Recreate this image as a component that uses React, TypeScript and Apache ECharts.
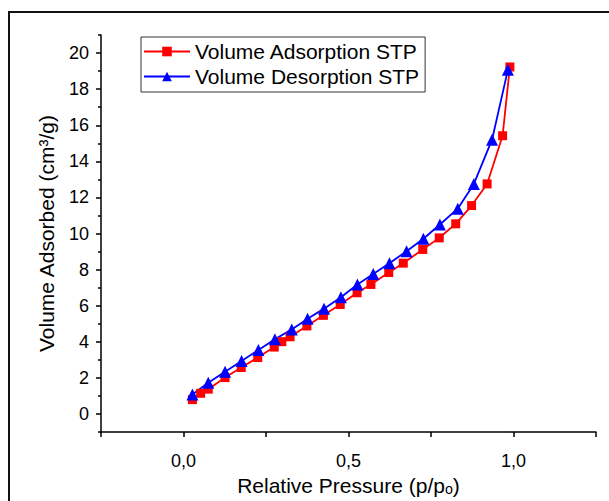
import React, { useEffect, useRef } from "react";
import * as echarts from "echarts";

const adsX = [0.027, 0.052, 0.075, 0.126, 0.175, 0.225, 0.275, 0.298, 0.323, 0.374, 0.424, 0.475, 0.526, 0.568, 0.622, 0.666, 0.725, 0.775, 0.825, 0.873, 0.92, 0.967, 0.989];
const adsY = [0.8, 1.15, 1.38, 2.02, 2.58, 3.13, 3.71, 4.01, 4.28, 4.88, 5.47, 6.07, 6.72, 7.18, 7.84, 8.36, 9.12, 9.76, 10.54, 11.55, 12.75, 15.42, 19.23];

const desX = [0.027, 0.075, 0.126, 0.176, 0.227, 0.277, 0.328, 0.376, 0.426, 0.477, 0.527, 0.575, 0.624, 0.676, 0.727, 0.777, 0.831, 0.88, 0.935, 0.983];
const desY = [1.08, 1.74, 2.35, 2.94, 3.55, 4.14, 4.69, 5.28, 5.84, 6.47, 7.18, 7.76, 8.36, 9.02, 9.71, 10.5, 11.38, 12.75, 15.2, 19.07];

const xLabelValues = [0, 0.5, 1.0];
const yMajorValues = [0, 2, 4, 6, 8, 10, 12, 14, 16, 18, 20];
const yMinorValues = [-1, 1, 3, 5, 7, 9, 11, 13, 15, 17, 19, 21];

const seriesNames = ["Volume Adsorption STP", "Volume Desorption STP"];
const FONT = "'Liberation Sans', Arial, sans-serif";

export default function App() {
  const ref = useRef<HTMLDivElement>(null);
  useEffect(() => {
    if (!ref.current) return;
    const chart = echarts.init(ref.current, null, { renderer: "svg" });
    const ads = adsX.map((x, i) => [x, adsY[i]]);
    const des = desX.map((x, i) => [x, desY[i]]);
    chart.setOption({
      animation: false,
      backgroundColor: "#fff",
      textStyle: { fontFamily: FONT },
      graphic: [
        {
          type: "rect",
          shape: { x: 9, y: 12, width: 800, height: 700 },
          style: { fill: "none", stroke: "#111", lineWidth: 2 },
          silent: true,
        },
      ],
      grid: { left: 101, top: 35, width: 495, height: 398 },
      legend: {
        orient: "vertical",
        left: 141,
        top: 37,
        data: seriesNames,
        borderColor: "#333",
        borderWidth: 1,
        borderRadius: 0,
        padding: [4, 6, 5, 2],
        itemWidth: 46,
        itemHeight: 12,
        itemGap: 4,
        textStyle: { fontSize: 21, color: "#000", fontFamily: FONT },
      },
      xAxis: {
        type: "value",
        min: -0.25,
        max: 1.25,
        interval: 0.25,
        name: "Relative Pressure (p/p\u2092)",
        nameLocation: "middle",
        nameGap: 42,
        nameTextStyle: { fontSize: 21, color: "#000", fontFamily: FONT },
        axisLine: { onZero: false, lineStyle: { color: "#000", width: 1.5 } },
        axisTick: { show: true, length: 5, inside: false, lineStyle: { color: "#000", width: 1.5 } },
        axisLabel: {
          customValues: xLabelValues,
          margin: 20,
          fontSize: 18,
          color: "#000",
          fontFamily: FONT,
          formatter: (v: number) => v.toFixed(1).replace(".", ","),
        },
        splitLine: { show: false },
      },
      yAxis: [
        {
          type: "value",
          min: -1,
          max: 21,
          position: "left",
          name: "Volume Adsorbed (cm\u00b3/g)",
          nameLocation: "middle",
          nameGap: 44,
          nameTextStyle: { fontSize: 21, color: "#000", fontFamily: FONT },
          axisLine: { show: true, onZero: false, lineStyle: { color: "#000", width: 1.5 } },
          axisTick: { show: true, length: 5, customValues: yMajorValues, lineStyle: { color: "#000", width: 1.5 } },
          axisLabel: { customValues: yMajorValues, margin: 12, fontSize: 18, color: "#000", fontFamily: FONT },
          splitLine: { show: false },
        },
        {
          type: "value",
          min: -1,
          max: 21,
          position: "left",
          axisLine: { show: false, onZero: false },
          axisTick: { show: true, length: 3, customValues: yMinorValues, lineStyle: { color: "#000", width: 1.5 } },
          axisLabel: { show: false, customValues: yMinorValues },
          splitLine: { show: false },
        },
      ],
      series: [
        {
          name: seriesNames[0],
          type: "line",
          data: ads,
          symbol: "rect",
          symbolSize: 9,
          color: "#ff0000",
          lineStyle: { color: "#ff0000", width: 1.8 },
          itemStyle: { color: "#ff0000" },
        },
        {
          name: seriesNames[1],
          type: "line",
          data: des,
          symbol: "triangle",
          symbolSize: 12,
          color: "#0000ff",
          lineStyle: { color: "#0000ff", width: 1.8 },
          itemStyle: { color: "#0000ff" },
        },
      ],
    });
    return () => chart.dispose();
  }, []);
  return <div ref={ref} style={{ position: "fixed", left: 0, top: 0, width: 609, height: 501 }} />;
}
